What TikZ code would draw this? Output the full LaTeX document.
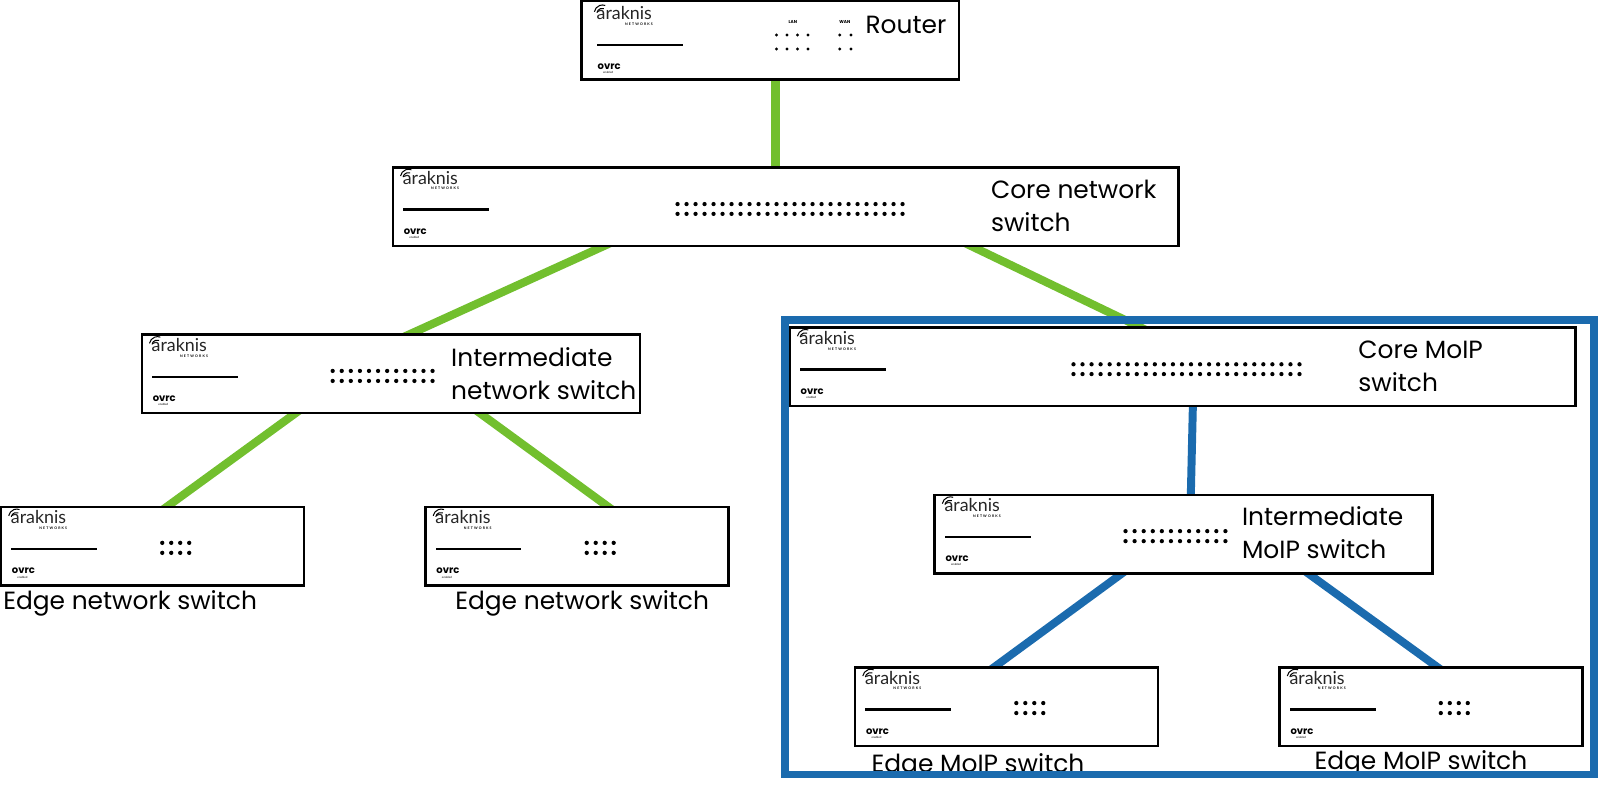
\documentclass[tikz,border=0pt]{standalone}
\usepackage{fontspec}
\setmainfont{Poppins}
\newfontfamily\logofont{Lato}
\usetikzlibrary{calc}
\pgfdeclarelayer{links}
\pgfsetlayers{links,main}
\definecolor{netgreen}{HTML}{72BF2E}
\definecolor{moipblue}{HTML}{1B6BAE}
\tikzset{
  x=1pt,y=-1pt,
  switchbox/.style={draw=black,line width=2.4pt,fill=white,inner sep=0pt,outer sep=0pt,anchor=north west},
  lbl/.style={inner sep=0pt,align=left,anchor=north west,font=\fontsize{24.4}{32.5}\selectfont},
  greenlink/.style={draw=netgreen,line width=8pt,shorten >=-6pt,shorten <=-6pt},
  bluelink/.style={draw=moipblue,line width=7.8pt,shorten >=-6pt,shorten <=-6pt},
  port/.style={fill=black},
}
% name, box x, box y, box width, logo x, logo y
\newcommand{\swbox}[6]{%
  \node[switchbox,minimum width=#4pt,minimum height=77pt] (#1) at (#2,#3) {};
  \node[inner sep=0pt,anchor=base west,font=\logofont\fontsize{17.5}{18}\selectfont\color{black!85}] (#1logo) at (#5+9.5,#6+16.5) {araknis};
  \node[inner sep=0pt,anchor=base east,font=\logofont\bfseries\fontsize{3.4}{4}\selectfont] (#1net) at (#5+65,#6+22) {N\,\,E\,\,T\,\,W\,\,O\,\,R\,\,K\,\,S};
  \draw[line width=1pt] (#5+7.5,#6+8.5) arc[start angle=170,end angle=70,radius=8pt];
  \draw[line width=1pt] (#5+10,#6+9.5) arc[start angle=170,end angle=70,radius=5.2pt];
  \fill[black] (#5+10,#6+40) rectangle (#5+94,#6+42.4);
  \node[inner sep=0pt,anchor=base west,font=\bfseries\fontsize{9.8}{10}\selectfont] (#1ovrc) at (#5+10.5,#6+65.5) {ovrc};
  \node[inner sep=0pt,anchor=base,font=\logofont\fontsize{2.8}{3}\selectfont] (#1en) at (#5+21,#6+69.5) {enabled};
}
% x start, spacing, columns, y top row, y row gap, radius
\newcommand{\swdots}[6]{%
  \foreach \c in {1,...,#3} {
    \foreach \r in {0,1} {
      \fill[port] (#1+\c*#2-#2,#4+\r*#5) circle[radius=#6pt];
    }
  }%
}
\begin{document}
\begin{tikzpicture}
\useasboundingbox (0,0) rectangle (1568,793.8);
\swbox{router}{570}{1}{370}{575}{3}
\swbox{core}{385}{164}{770}{385}{164}
\swbox{inter}{139}{328}{488}{139}{328}
\swbox{edgea}{1}{497}{297}{1}{497}
\swbox{edgeb}{417}{497}{297}{417}{497}
\swbox{corem}{774}{321}{770}{774}{321}
\swbox{interm}{916}{485}{488}{916}{485}
\swbox{edgec}{838}{654}{297}{838}{654}
\swbox{edged}{1254}{654}{297}{1254}{654}
\swdots{664}{8.82}{26}{200}{9.6}{2.1}
\swdots{326}{8.9}{12}{363.5}{9.8}{2.1}
\swdots{159}{8.8}{4}{532}{9.8}{2.1}
\swdots{575}{8.8}{4}{532}{9.8}{2.1}
\swdots{1052}{8.86}{26}{357}{9.6}{2.1}
\swdots{1103}{8.9}{12}{520.5}{9.8}{2.1}
\swdots{996}{8.8}{4}{689}{9.8}{2.1}
\swdots{1412}{8.8}{4}{689}{9.8}{2.1}
\swdots{761}{10.3}{4}{34.3}{13.7}{1.6}
\swdots{823}{11}{2}{34.3}{13.7}{1.6}
\node[inner sep=0pt,font=\bfseries\fontsize{4.2}{5}\selectfont] (lan) at (777,22) {LAN};
\node[inner sep=0pt,font=\bfseries\fontsize{4.2}{5}\selectfont] (wan) at (828,22) {WAN};
% connectors, under the boxes
\begin{pgfonlayer}{links}
\draw[greenlink] ($(router.south west)+(190,0)$) -- ($(core.north west)+(375,0)$);
\draw[greenlink] ($(core.south west)+(207,0)$) -- ($(inter.north west)+(261.5,0)$);
\draw[greenlink] ($(core.south west)+(566.5,0)$) -- ($(corem.north west)+(344,0)$);
\draw[greenlink] ($(inter.south west)+(150.5,0)$) -- ($(edgea.north west)+(162,0)$);
\draw[greenlink] ($(inter.south west)+(331.5,0)$) -- ($(edgeb.north west)+(179.5,0)$);
\draw[bluelink] ($(corem.south west)+(395,0)$) -- ($(interm.north west)+(251,0)$);
\draw[bluelink] ($(interm.south west)+(183.5,0)$) -- ($(edgec.north west)+(136,0)$);
\draw[bluelink] ($(interm.south west)+(366,0)$) -- ($(edged.north west)+(155,0)$);
\end{pgfonlayer}
\node[lbl] (t1) at (848,16) {Router};
\node[lbl] (t2) at (971,176) {Core network\\switch};
\node[lbl] (t3) at (442,340) {Intermediate\\network switch};
\node[lbl] (t4) at (3,579) {Edge network switch};
\node[lbl] (t5) at (446,579) {Edge network switch};
\node[lbl] (t6) at (1331,334) {Core MoIP\\switch};
\node[lbl] (t7) at (1217,496) {Intermediate\\MoIP switch};
\begin{scope}
\clip (840,730) rectangle (1100,760);
\node[lbl] (t8) at (854,738) {Edge MoIP switch};
\end{scope}
\node[lbl] (t9) at (1288,735) {Edge MoIP switch};
\node[draw=moipblue,line width=7.8pt,outer sep=0pt,minimum width=792.6pt,minimum height=445.4pt,inner sep=0pt,anchor=north west] (frame) at (769.4,313.6) {};
\end{tikzpicture}
\end{document}
